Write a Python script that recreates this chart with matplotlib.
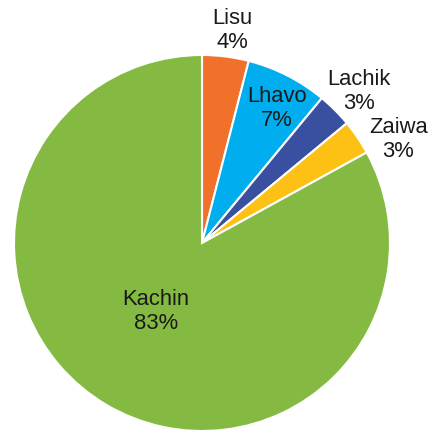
import numpy as np
import matplotlib
matplotlib.use('Agg')
import matplotlib.pyplot as plt

# data
groups = ['Lisu', 'Lhavo', 'Lachik', 'Zaiwa', 'Kachin']
shares = [4, 7, 3, 3, 83]
colors = ['#F1712A', '#00AEEF', '#38509F', '#FDC115', '#84BA42']

# label placement (radius in pie units, angle nudge in degrees)
label_r = [1.14, 0.82, 1.16, 1.18, 0.44]
label_nudge = [-1, -2, -1, -6.5, -3.5]

plt.rcParams['font.family'] = ['Liberation Sans', 'DejaVu Sans']

fig = plt.figure(figsize=(4.28, 4.30), dpi=100, facecolor='w')
cx, cy, R = 202, 243, 188   # pixel centre and radius
ax = fig.add_axes([(cx - R) / 428, (430 - cy - R) / 430, 2 * R / 428, 2 * R / 430])

wedges, _ = ax.pie(shares, colors=colors, startangle=90, counterclock=False,
                   radius=1, wedgeprops=dict(edgecolor='white', linewidth=1.5))

for w, name, val, r, nd in zip(wedges, groups, shares, label_r, label_nudge):
    mid = np.deg2rad((w.theta1 + w.theta2) / 2 + nd)
    ax.text(r * np.cos(mid), r * np.sin(mid), f'{name}\n{val}%',
            ha='center', va='center', fontsize=15.8, color='#1a1a1a',
            linespacing=1.2, clip_on=False)

ax.set_xlim(-1, 1)
ax.set_ylim(-1, 1)
ax.set_aspect('equal')
ax.axis('off')

fig.savefig('out.png', dpi=100)
